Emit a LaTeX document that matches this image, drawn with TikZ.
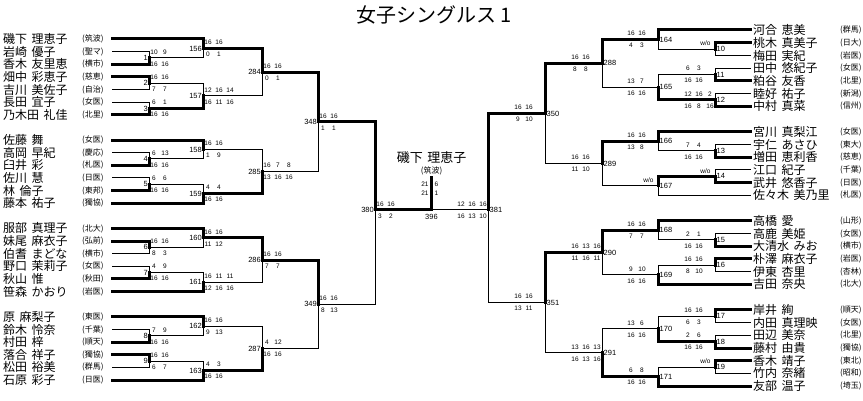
\documentclass[tikz,border=0pt]{standalone}
\usepackage{fontspec}
\setmainfont{Liberation Sans}
\newfontfamily\jpf{Noto Sans CJK JP}
\newcommand{\YL}[1]{(39+12.63*(#1))}
\newcommand{\YR}[1]{(30+12.72*(#1))}
\newcommand{\nmgap}{\hspace{4.5pt}}
\tikzset{
  lose/.style={line width=1pt, line cap=rect},
  win/.style={line width=3pt, line cap=rect},
  nm/.style={font=\jpf\fontsize{12}{12}\selectfont, anchor=west, inner sep=0pt},
  aff/.style={font=\jpf\fontsize{8}{8}\selectfont, anchor=west, inner sep=0pt},
  sc/.style={font=\fontsize{6.5}{6.5}\selectfont, inner sep=0pt},
  lbl/.style={font=\fontsize{7.5}{7.5}\selectfont, inner sep=0pt},
}
% player on the left / right: id, row, name, affiliation
\newcommand{\plL}[4]{%
  \coordinate (#1) at (112,{\YL{#2}});
  \node[nm] (#1n) at (3,{\YL{#2}}) {#3};
  \node[aff] (#1a) at (82,{\YL{#2}}) {#4};}
\newcommand{\plR}[4]{%
  \coordinate (#1) at (750,{\YR{#2}});
  \node[nm] (#1n) at (753,{\YR{#2}}) {#3};
  \node[aff] (#1a) at (840,{\YR{#2}}) {#4};}
% match: name, x, y, label
\newcommand{\mL}[4]{%
  \coordinate (#1) at (#2,{#3});
  \node[lbl, anchor=east] (#1l) at ({#2-1},{#3}) {#4};}
\newcommand{\mR}[4]{%
  \coordinate (#1) at (#2,{#3});
  \node[lbl, anchor=west] (#1l) at ({#2+1.5},{#3}) {#4};}
% scores: match, top list, bottom list
\newcommand{\sL}[3]{%
  \foreach \s [count=\i] in {#2} {\node[sc] (#1-t\i) at ([xshift={(5+11*(\i-1))*1pt}, yshift=6pt]#1) {\s};}
  \foreach \s [count=\i] in {#3} {\node[sc] (#1-b\i) at ([xshift={(5+11*(\i-1))*1pt}, yshift=-6pt]#1) {\s};}}
\newcommand{\sR}[3]{%
  \foreach \s [count=\i] in {#2} {\node[sc] (#1-t\i) at ([xshift={(-27+11*(\i-1))*1pt}, yshift=6pt]#1) {\s};}
  \foreach \s [count=\i] in {#3} {\node[sc] (#1-b\i) at ([xshift={(-27+11*(\i-1))*1pt}, yshift=-6pt]#1) {\s};}}
\newcommand{\wo}[1]{\node[sc] (#1-wo) at ([xshift=-9.5pt, yshift=5.5pt]#1) {w/o};}
% connector from child to parent
\newcommand{\cn}[3]{\draw[#3] (#1) -- (#1 -| #2) -- (#2);}
\begin{document}
\begin{tikzpicture}[x=1pt,y=-1pt]
\fill[white] (0,0) rectangle (863,401);
\useasboundingbox (0,0) rectangle (863,401);
\node[font=\jpf\fontsize{20}{20}\selectfont, inner sep=0pt] (title) at (434,15) {女子シングルス 1};
% ---------- left players ----------
\plL{pL0}{0}{磯下\nmgap 理恵子}{(筑波)}
\plL{pL1}{1}{岩崎\nmgap 優子}{(聖マ)}
\plL{pL2}{2}{香木\nmgap 友里恵}{(横市)}
\plL{pL3}{3}{畑中\nmgap 彩恵子}{(慈恵)}
\plL{pL4}{4}{吉川\nmgap 美佐子}{(自治)}
\plL{pL5}{5}{長田\nmgap 宜子}{(女医)}
\plL{pL6}{6}{乃木田\nmgap 礼佳}{(北里)}
\plL{pL8}{8}{佐藤\nmgap 舞}{(女医)}
\plL{pL9}{9}{高岡\nmgap 早紀}{(慶応)}
\plL{pL10}{10}{臼井\nmgap 彩}{(札医)}
\plL{pL11}{11}{佐川\nmgap 慧}{(日医)}
\plL{pL12}{12}{林\nmgap 倫子}{(東邦)}
\plL{pL13}{13}{藤本\nmgap 祐子}{(獨協)}
\plL{pL15}{15}{服部\nmgap 真理子}{(北大)}
\plL{pL16}{16}{妹尾\nmgap 麻衣子}{(弘前)}
\plL{pL17}{17}{伯耆\nmgap まどな}{(横市)}
\plL{pL18}{18}{野口\nmgap 茉莉子}{(女医)}
\plL{pL19}{19}{秋山\nmgap 惟}{(秋田)}
\plL{pL20}{20}{笹森\nmgap かおり}{(岩医)}
\plL{pL22}{22}{原\nmgap 麻梨子}{(東医)}
\plL{pL23}{23}{鈴木\nmgap 怜奈}{(千葉)}
\plL{pL24}{24}{村田\nmgap 梓}{(順天)}
\plL{pL25}{25}{落合\nmgap 祥子}{(獨協)}
\plL{pL26}{26}{松田\nmgap 裕美}{(群馬)}
\plL{pL27}{27}{石原\nmgap 彩子}{(日医)}
% ---------- right players ----------
\plR{pR0}{0}{河合\nmgap 恵美}{(群馬)}
\plR{pR1}{1}{桃木\nmgap 真美子}{(日大)}
\plR{pR2}{2}{梅田\nmgap 実紀}{(岩医)}
\plR{pR3}{3}{田中\nmgap 悠紀子}{(女医)}
\plR{pR4}{4}{粕谷\nmgap 友香}{(北里)}
\plR{pR5}{5}{睦好\nmgap 祐子}{(新潟)}
\plR{pR6}{6}{中村\nmgap 真菜}{(信州)}
\plR{pR8}{8}{宮川\nmgap 真梨江}{(女医)}
\plR{pR9}{9}{宇仁\nmgap あさひ}{(東大)}
\plR{pR10}{10}{増田\nmgap 恵利香}{(慈恵)}
\plR{pR11}{11}{江口\nmgap 紀子}{(千葉)}
\plR{pR12}{12}{武井\nmgap 悠香子}{(日医)}
\plR{pR13}{13}{佐々木\nmgap 美乃里}{(札医)}
\plR{pR15}{15}{高橋\nmgap 愛}{(山形)}
\plR{pR16}{16}{高鹿\nmgap 美姫}{(女医)}
\plR{pR17}{17}{大清水\nmgap みお}{(横市)}
\plR{pR18}{18}{朴澤\nmgap 麻衣子}{(岩医)}
\plR{pR19}{19}{伊東\nmgap 杏里}{(杏林)}
\plR{pR20}{20}{吉田\nmgap 奈央}{(北大)}
\plR{pR22}{22}{岸井\nmgap 絢}{(順天)}
\plR{pR23}{23}{内田\nmgap 真理映}{(女医)}
\plR{pR24}{24}{田辺\nmgap 美奈}{(北里)}
\plR{pR25}{25}{藤村\nmgap 由貴}{(獨協)}
\plR{pR26}{26}{香木\nmgap 靖子}{(東北)}
\plR{pR27}{27}{竹内\nmgap 奈緒}{(昭和)}
\plR{pR28}{28}{友部\nmgap 温子}{(埼玉)}
% ---------- left matches ----------
\mL{m1}{149}{\YL{1.5}}{1}
\mL{m2}{149}{\YL{3.5}}{2}
\mL{m3}{149}{\YL{5.5}}{3}
\mL{m156}{203}{\YL{0.75}}{156}
\mL{m157}{203}{\YL{4.5}}{157}
\mL{m284}{262}{\YL{2.625}}{284}
\mL{m4}{149}{\YL{9.5}}{4}
\mL{m5}{149}{\YL{11.5}}{5}
\mL{m158}{203}{\YL{8.75}}{158}
\mL{m159}{203}{\YL{12.25}}{159}
\mL{m285}{262}{\YL{10.5}}{285}
\mL{m348}{318}{\YL{6.5625}}{348}
\mL{m6}{149}{\YL{16.5}}{6}
\mL{m7}{149}{\YL{18.5}}{7}
\mL{m160}{203}{\YL{15.75}}{160}
\mL{m161}{203}{\YL{19.25}}{161}
\mL{m286}{262}{\YL{17.5}}{286}
\mL{m8}{149}{\YL{23.5}}{8}
\mL{m9}{149}{\YL{25.5}}{9}
\mL{m162}{203}{\YL{22.75}}{162}
\mL{m163}{203}{\YL{26.25}}{163}
\mL{m287}{262}{\YL{24.5}}{287}
\mL{m349}{318}{\YL{21}}{349}
\mL{m380}{375}{210}{380}
% ---------- right matches ----------
\mR{m10}{715}{\YR{1.5}}{10}
\mR{m11}{715}{\YR{3.5}}{11}
\mR{m12}{715}{\YR{5.5}}{12}
\mR{m164}{658}{\YR{0.75}}{164}
\mR{m165}{658}{\YR{4.5}}{165}
\mR{m288}{602}{\YR{2.625}}{288}
\mR{m13}{715}{\YR{9.5}}{13}
\mR{m14}{715}{\YR{11.5}}{14}
\mR{m166}{658}{\YR{8.75}}{166}
\mR{m167}{658}{\YR{12.25}}{167}
\mR{m289}{602}{\YR{10.5}}{289}
\mR{m350}{545}{\YR{6.5625}}{350}
\mR{m15}{715}{\YR{16.5}}{15}
\mR{m16}{715}{\YR{18.5}}{16}
\mR{m168}{658}{\YR{15.75}}{168}
\mR{m169}{658}{\YR{19.25}}{169}
\mR{m290}{602}{\YR{17.5}}{290}
\mR{m17}{715}{\YR{22.5}}{17}
\mR{m18}{715}{\YR{24.5}}{18}
\mR{m170}{658}{\YR{23.5}}{170}
\mR{m19}{715}{\YR{26.5}}{19}
\mR{m171}{658}{\YR{27.25}}{171}
\mR{m291}{602}{\YR{25.375}}{291}
\mR{m351}{545}{\YR{21.4375}}{351}
\mR{m381}{488}{210}{381}
% ---------- final ----------
\coordinate (m396) at (431.5,210);
\coordinate (champ) at (431.5,178);
\node[lbl] (m396l) at (431.5,216.5) {396};
\node[font=\jpf\fontsize{13}{13}\selectfont, inner sep=0pt] (champn) at (431.5,158) {磯下\nmgap 理恵子};
\node[aff, anchor=center] (champa) at (431.5,171) {(筑波)};
\node[sc, anchor=east] (f-l1) at (428.8,184) {21};
\node[sc, anchor=west] (f-r1) at (434.3,184) {6};
\node[sc, anchor=east] (f-l2) at (428.8,193) {21};
\node[sc, anchor=west] (f-r2) at (434.3,193) {1};
% ---------- connectors, left ----------
\cn{pL0}{m156}{win}
\cn{pL1}{m1}{lose}
\cn{pL2}{m1}{win}
\cn{pL3}{m2}{win}
\cn{pL4}{m2}{lose}
\cn{pL5}{m3}{lose}
\cn{pL6}{m3}{win}
\cn{m1}{m156}{lose}
\cn{m2}{m157}{lose}
\cn{m3}{m157}{win}
\cn{m156}{m284}{win}
\cn{m157}{m284}{lose}
\cn{m284}{m348}{win}
\cn{pL8}{m158}{win}
\cn{pL9}{m4}{lose}
\cn{pL10}{m4}{win}
\cn{m4}{m158}{lose}
\cn{pL11}{m5}{lose}
\cn{pL12}{m5}{win}
\cn{m5}{m159}{lose}
\cn{pL13}{m159}{win}
\cn{m158}{m285}{lose}
\cn{m159}{m285}{win}
\cn{m285}{m348}{lose}
\cn{m348}{m380}{win}
\cn{pL15}{m160}{win}
\cn{pL16}{m6}{win}
\cn{pL17}{m6}{lose}
\cn{m6}{m160}{lose}
\cn{pL18}{m7}{lose}
\cn{pL19}{m7}{win}
\cn{m7}{m161}{lose}
\cn{pL20}{m161}{win}
\cn{m160}{m286}{win}
\cn{m161}{m286}{lose}
\cn{m286}{m349}{win}
\cn{pL22}{m162}{win}
\cn{pL23}{m8}{lose}
\cn{pL24}{m8}{win}
\cn{m8}{m162}{lose}
\cn{pL25}{m9}{win}
\cn{pL26}{m9}{lose}
\cn{m9}{m163}{lose}
\cn{pL27}{m163}{win}
\cn{m162}{m287}{lose}
\cn{m163}{m287}{win}
\cn{m287}{m349}{lose}
\cn{m349}{m380}{lose}
% ---------- connectors, right ----------
\cn{pR0}{m164}{win}
\cn{pR1}{m10}{win}
\cn{pR2}{m10}{lose}
\cn{m10}{m164}{lose}
\cn{pR3}{m11}{lose}
\cn{pR4}{m11}{win}
\cn{pR5}{m12}{lose}
\cn{pR6}{m12}{win}
\cn{m11}{m165}{lose}
\cn{m12}{m165}{win}
\cn{m164}{m288}{win}
\cn{m165}{m288}{lose}
\cn{m288}{m350}{win}
\cn{pR8}{m166}{win}
\cn{pR9}{m13}{lose}
\cn{pR10}{m13}{win}
\cn{m13}{m166}{lose}
\cn{pR11}{m14}{lose}
\cn{pR12}{m14}{win}
\cn{m14}{m167}{win}
\cn{pR13}{m167}{lose}
\cn{m166}{m289}{win}
\cn{m167}{m289}{lose}
\cn{m289}{m350}{lose}
\cn{m350}{m381}{win}
\cn{pR15}{m168}{win}
\cn{pR16}{m15}{lose}
\cn{pR17}{m15}{win}
\cn{m15}{m168}{lose}
\cn{pR18}{m16}{win}
\cn{pR19}{m16}{lose}
\cn{m16}{m169}{lose}
\cn{pR20}{m169}{win}
\cn{m168}{m290}{win}
\cn{m169}{m290}{lose}
\cn{m290}{m351}{win}
\cn{pR22}{m17}{win}
\cn{pR23}{m17}{lose}
\cn{pR24}{m18}{lose}
\cn{pR25}{m18}{win}
\cn{m17}{m170}{lose}
\cn{m18}{m170}{win}
\cn{pR26}{m19}{win}
\cn{pR27}{m19}{lose}
\cn{m19}{m171}{lose}
\cn{pR28}{m171}{win}
\cn{m170}{m291}{lose}
\cn{m171}{m291}{win}
\cn{m291}{m351}{lose}
\cn{m351}{m381}{lose}
% ---------- final connectors ----------
\draw[win] (m380) -- (m396);
\draw[lose] (m381) -- (m396);
\draw[win] (m396) -- (champ);
% ---------- scores, left ----------
\sL{m1}{10,9}{16,16}
\sL{m2}{16,16}{7,7}
\sL{m3}{6,1}{16,16}
\sL{m156}{16,16}{0,1}
\sL{m157}{12,16,14}{16,11,16}
\sL{m284}{16,16}{0,1}
\sL{m4}{6,13}{16,16}
\sL{m5}{6,6}{16,16}
\sL{m158}{16,16}{1,9}
\sL{m159}{4,4}{16,16}
\sL{m285}{16,7,8}{13,16,16}
\sL{m348}{16,16}{1,1}
\sL{m6}{16,16}{8,3}
\sL{m7}{4,9}{16,16}
\sL{m160}{16,16}{11,12}
\sL{m161}{16,11,11}{12,16,16}
\sL{m286}{16,16}{7,7}
\sL{m8}{7,9}{16,16}
\sL{m9}{16,16}{6,7}
\sL{m162}{16,16}{9,13}
\sL{m163}{4,3}{16,16}
\sL{m287}{4,12}{16,16}
\sL{m349}{16,16}{8,13}
\sL{m380}{16,16}{3,2}
% ---------- scores, right ----------
\wo{m10}
\sR{m11}{6,3}{16,16}
\sR{m12}{12,16,2}{16,8,16}
\sR{m164}{16,16}{4,3}
\sR{m165}{13,7}{16,16}
\sR{m288}{16,16}{8,8}
\sR{m13}{7,4}{16,16}
\wo{m14}
\sR{m166}{16,16}{13,8}
\wo{m167}
\sR{m289}{16,16}{11,10}
\sR{m350}{16,16}{9,10}
\sR{m15}{2,1}{16,16}
\sR{m16}{16,16}{8,10}
\sR{m168}{16,16}{7,7}
\sR{m169}{9,10}{16,16}
\sR{m290}{16,13,16}{11,16,11}
\sR{m17}{16,16}{6,3}
\sR{m18}{2,6}{16,16}
\sR{m170}{13,6}{16,16}
\wo{m19}
\sR{m171}{6,8}{16,16}
\sR{m291}{13,16,13}{16,13,16}
\sR{m351}{16,16}{13,11}
\sR{m381}{12,16,16}{16,13,10}
\end{tikzpicture}
\end{document}
